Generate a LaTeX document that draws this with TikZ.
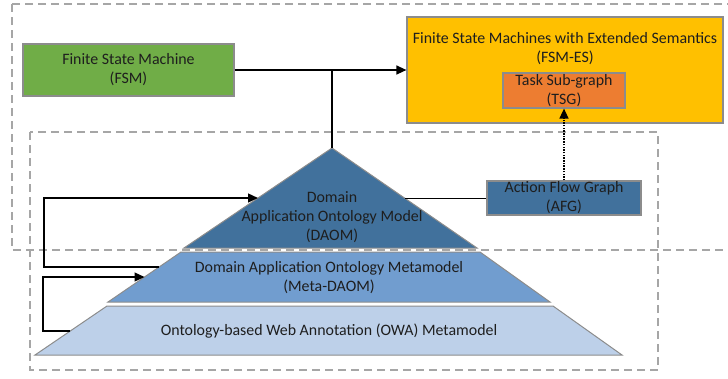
\documentclass[tikz,border=0pt]{standalone}
\usepackage{fontspec}
\setmainfont{Carlito}
\usetikzlibrary{arrows.meta}
\definecolor{fsmgreen}{HTML}{70AD47}
\definecolor{esyellow}{HTML}{FFC000}
\definecolor{tsgorange}{HTML}{ED7D31}
\definecolor{daomblue}{HTML}{41719C}
\definecolor{metablue}{HTML}{719DCF}
\definecolor{owablue}{HTML}{BDD0E9}
\definecolor{framegray}{HTML}{A6A6A6}
\definecolor{edgegray}{HTML}{8C8C8C}
\definecolor{ink}{HTML}{1E1E1E}
\begin{document}
\begin{tikzpicture}[x=1pt,y=-1pt,
  font=\fontsize{15.9}{19}\selectfont,
  box/.style={draw=edgegray,line width=1.2pt,align=center,inner sep=0pt,text=ink},
  lbl/.style={align=center,inner sep=0pt,text=ink},
  frame/.style={draw=framegray,line width=1.3pt,dash pattern=on 8pt off 5pt},
  layer/.style={draw=edgegray,line width=1pt},
  conn/.style={line width=1.3pt,draw=black},
  tip/.style={-{Triangle[length=10pt,width=9pt]}}]
\useasboundingbox (0,0) rectangle (728,378);

% dashed grouping frames
\begin{scope}
  \clip (0,0) rectangle (728,378);
  \draw[frame] (12,4) rectangle (745,250);
\end{scope}
\draw[frame] (30,132) rectangle (658,370);

% ontology pyramid
\coordinate (apex) at (332,148);
\filldraw[layer,fill=daomblue] (apex) -- (477,248) -- (184,248) -- cycle;
\filldraw[layer,fill=metablue] (181,252) -- (480,252) -- (550,302) -- (108,302) -- cycle;
\filldraw[layer,fill=owablue] (107,306) -- (553,306) -- (622,355) -- (35,355) -- cycle;

\node[lbl] (daom) at (332,217) {Domain\\Application Ontology Model\\(DAOM)};
\node[lbl] (meta) at (329,277.5) {Domain Application Ontology Metamodel\\(Meta-DAOM)};
\node[lbl] (owa) at (329,331) {Ontology-based Web Annotation (OWA) Metamodel};

% boxes
\node[box,fill=fsmgreen,minimum width=211pt,minimum height=52pt] (fsm) at (128.5,70) {Finite State Machine\\(FSM)};
\node[box,fill=esyellow,minimum width=316pt,minimum height=106pt] (es) at (565,70) {};
\node[lbl] (eslabel) at (565,48.5) {Finite State Machines with Extended Semantics\\(FSM-ES)};
\node[box,fill=tsgorange,minimum width=122pt,minimum height=35pt] (tsg) at (564,90.5) {Task Sub-graph\\(TSG)};
\node[box,fill=daomblue,minimum width=154pt,minimum height=34pt] (afg) at (564,198) {Action Flow Graph\\(AFG)};

% connectors
\coordinate (join) at (332,70);
\draw[conn,tip] (fsm.east) -- (es.west);
\draw[conn] (join) -- (apex);
\coordinate (daomR) at (404.5,198);
\draw[line width=1pt] (daomR) -- (afg.west);
\draw[conn,tip,line width=1.5pt,dash pattern=on 1.5pt off 1.2pt] (afg.north) -- (tsg.south);

% feedback loops on the left
\coordinate (metaL) at (159,267);
\coordinate (daomL) at (258,198);
\draw[conn,tip] (metaL) -- (44,267) -- (44,198) -- (daomL);
\coordinate (owaL) at (70,331);
\coordinate (metaIn) at (144.5,277);
\draw[conn,tip] (owaL) -- (43,331) -- (43,277) -- (metaIn);
\end{tikzpicture}
\end{document}
